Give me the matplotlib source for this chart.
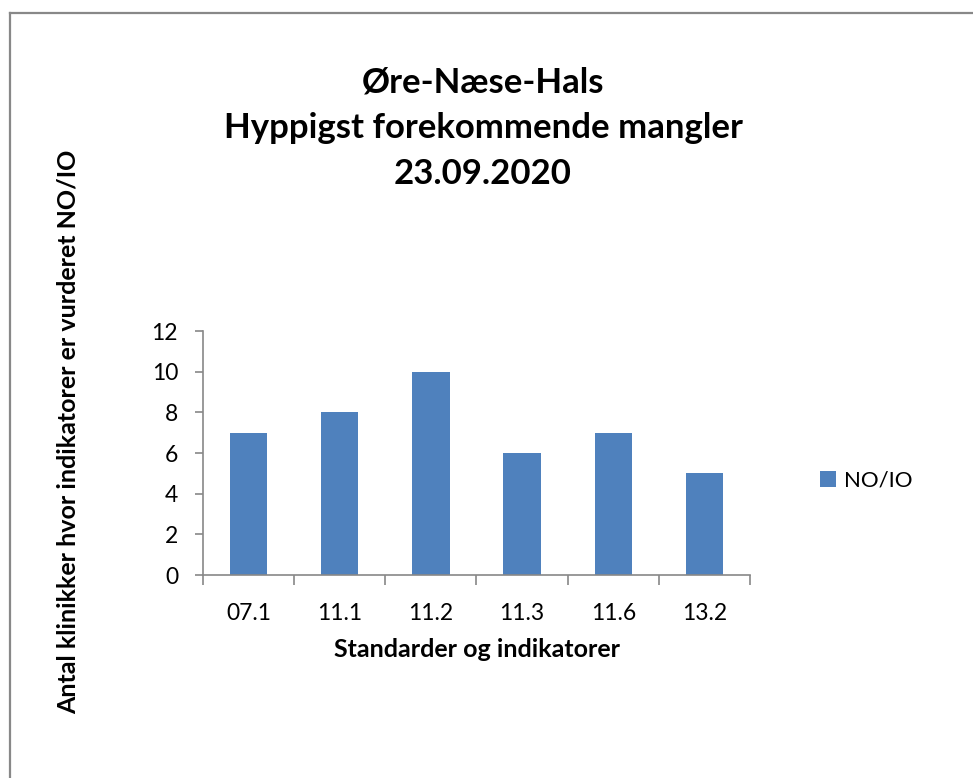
import matplotlib.pyplot as plt
from matplotlib.lines import Line2D

categories = ['07.1', '11.1', '11.2', '11.3', '11.6', '13.2']
values = [7, 8, 10, 6, 7, 5]
series_name = 'NO/IO'
title_lines = ['Øre-Næse-Hals', 'Hyppigst forekommende mangler', '23.09.2020']
y_ticks = [0, 2, 4, 6, 8, 10, 12]

plt.rcParams['font.family'] = ['Lato', 'DejaVu Sans']

W, H = 973, 778
fig = plt.figure(figsize=(W / 100, H / 100), dpi=100)

# outer chart border (only top and left visible, the rest is cropped)
fig.add_artist(Line2D([10 / W, 10 / W], [0, 1 - 13 / H], transform=fig.transFigure,
                      color='#888888', lw=1.6))
fig.add_artist(Line2D([10 / W, 1], [1 - 13 / H, 1 - 13 / H], transform=fig.transFigure,
                      color='#888888', lw=1.6))

ax = fig.add_axes([203 / W, 1 - 575 / H, (750 - 203) / W, (575 - 331) / H])
x = range(len(categories))
ax.bar(x, values, width=0.41, color='#4F81BD', label=series_name)

ax.set_xlim(-0.5, len(categories) - 0.5)
ax.set_ylim(0, 12)
ax.set_yticks(y_ticks)
ax.set_xticks(list(x))
ax.set_xticklabels(categories, fontsize=16.5)
ax.tick_params(axis='y', labelsize=16.5, length=6, color='#888888', width=1.2, pad=12)
ax.tick_params(axis='x', length=0, pad=20)
# category boundary ticks on the x axis
ax.set_xticks([i - 0.5 for i in range(len(categories) + 1)], minor=True)
ax.tick_params(axis='x', which='minor', length=7, color='#888888', width=1.2, direction='out')

for s in ['top', 'right']:
    ax.spines[s].set_visible(False)
for s in ['left', 'bottom']:
    ax.spines[s].set_color('#888888')
    ax.spines[s].set_linewidth(1.2)

ax.set_xlabel('Standarder og indikatorer', fontsize=18, fontweight='bold', labelpad=10)

fig.text(68 / W, 1 - 432 / H, 'Antal klinikker hvor indikatorer er vurderet NO/IO',
         rotation=90, ha='center', va='center', fontsize=18, fontweight='bold')

for i, line in enumerate(title_lines):
    fig.text(483 / W, 1 - (82 + 46 * i) / H, line, ha='center', va='center',
             fontsize=25, fontweight='bold')

ax.legend(loc='center left', bbox_to_anchor=(800 / W, 1 - 481 / H),
          bbox_transform=fig.transFigure, frameon=False, fontsize=16,
          handlelength=0.7, handleheight=0.7, handletextpad=0.4)

fig.savefig('out.png', dpi=100)
